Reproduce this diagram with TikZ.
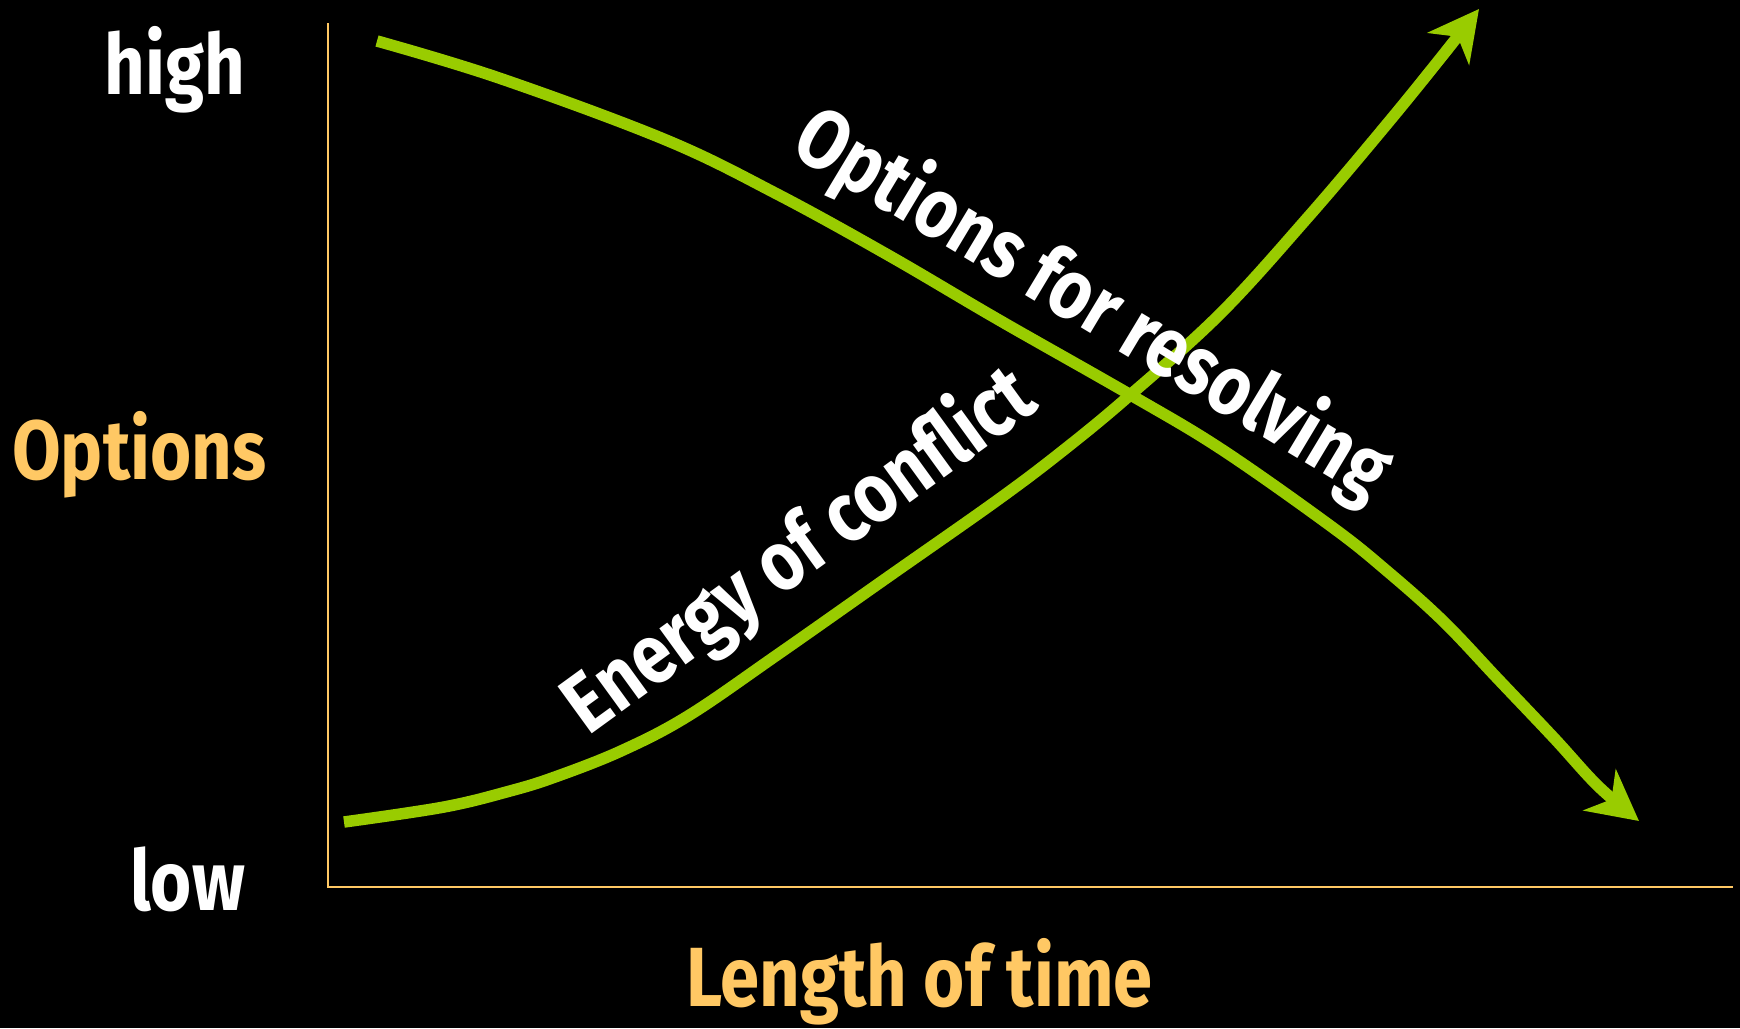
\documentclass[tikz,border=0pt]{standalone}
\usepackage{fontspec}
\setmainfont{Fira Sans}[FakeStretch=0.84,BoldFont={Fira Sans Bold},BoldFeatures={FakeStretch=0.84}]
\usetikzlibrary{arrows.meta}
\definecolor{axiscol}{HTML}{FFC864}
\definecolor{curvecol}{HTML}{99CC00}
\tikzset{
  axisline/.style={draw=axiscol, line width=2.6pt},
  curve/.style={draw=curvecol, line width=11.5pt, -{Stealth[length=50pt,width=52pt,inset=15pt]}},
  lbl/.style={inner sep=0pt, font=\fontsize{84}{84}\selectfont\bfseries},
  whitelbl/.style={lbl, text=white},
  axislbl/.style={lbl, text=axiscol},
}
\begin{document}
\begin{tikzpicture}[x=1pt,y=-1pt]
\fill[black] (0,0) rectangle (1740,1028);
\useasboundingbox (0,0) rectangle (1740,1028);
% axes
\coordinate (top) at (328,23);
\coordinate (origin) at (328,887);
\coordinate (right) at (1733,887);
\draw[axisline] (top) -- (origin) -- (right);
% curves
\draw[curve] plot[smooth, tension=0.6] coordinates {(377,41) (499,78) (666,140) (777,194) (888,255) (999,320) (1129,394) (1221,449) (1332,527) (1387,571) (1443,621) (1498,679) (1554,738) (1598,786) (1639,821)};
\draw[curve] plot[smooth, tension=0.6] coordinates {(344,822) (444,807) (510,791) (555,777) (621,751) (688,716) (777,655) (888,577) (999,499) (1065,449) (1129,396) (1221,313) (1309,216) (1387,124) (1443,55) (1479,9)};
% labels
\node[whitelbl, anchor=base east] (high) at (245,94) {high};
\node[whitelbl, anchor=base east] (low) at (245,910) {low};
\node[axislbl, anchor=base west] (opt) at (12,479) {Options};
\node[axislbl, anchor=base west] (time) at (686,1006) {Length of time};
\node[whitelbl, rotate=-31] (res) at (1092,306) {Options for resolving};
\node[whitelbl, rotate=36] (energy) at (800,552) {Energy of conflict};
\end{tikzpicture}
\end{document}
